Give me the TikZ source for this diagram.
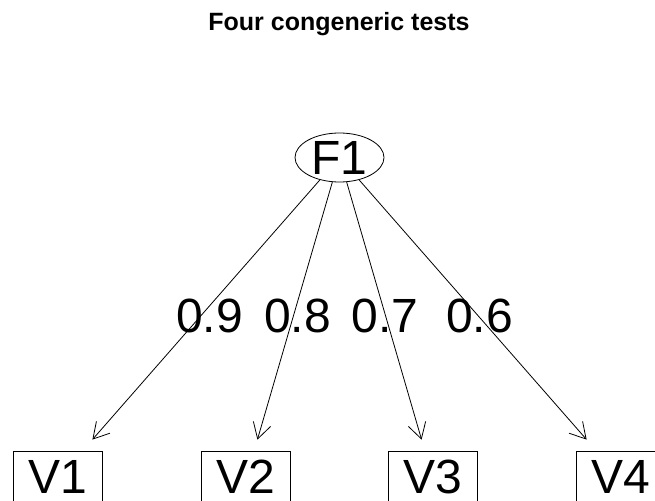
\documentclass[tikz,border=0pt]{standalone}
\usepackage{fontspec}
\setmainfont{Liberation Sans}
\usetikzlibrary{arrows.meta,shapes.geometric}

\begin{document}
\begin{tikzpicture}[x=1pt,y=-1pt,
  lat/.style={draw, ellipse, line width=0.8pt, inner sep=0pt, minimum width=89pt, minimum height=49pt, font=\fontsize{48}{48}\selectfont},
  obs/.style={draw, rectangle, line width=0.8pt, inner sep=0pt, minimum width=89pt, minimum height=56pt, text height=34pt, text depth=6pt, font=\fontsize{48}{48}\selectfont},
  lbl/.style={anchor=base, inner sep=0pt, font=\fontsize{48}{48}\selectfont},
  load/.style={-{Straight Barb[length=15.6pt,width=18pt]}, line width=0.8pt},
  ttl/.style={anchor=base, inner sep=0pt, font=\fontsize{25}{25}\selectfont\bfseries}
]
\useasboundingbox (0,0) rectangle (655,500);
\clip (0,0) rectangle (655,500);
\fill[white] (0,0) rectangle (655,500);

\node[ttl] (title) at (339,31) {Four congeneric tests};

\node[lat] (F1) at (339.5,157.5) {F1};

\node[obs] (V1) at (58,479) {V1};
\node[obs] (V2) at (246,479) {V2};
\node[obs] (V3) at (433,479) {V3};
\node[obs] (V4) at (621,479) {V4};

\draw[load, shorten >=14.6pt] (F1) -- (V1);
\draw[load, shorten >=11.4pt] (F1) -- (V2);
\draw[load, shorten >=11.4pt] (F1) -- (V3);
\draw[load, shorten >=14.6pt] (F1) -- (V4);

\node[lbl] (l1) at (209.5,332) {0.9};
\node[lbl] (l2) at (297.5,332) {0.8};
\node[lbl] (l3) at (385,332) {0.7};
\node[lbl] (l4) at (479.5,332) {0.6};
\end{tikzpicture}
\end{document}
